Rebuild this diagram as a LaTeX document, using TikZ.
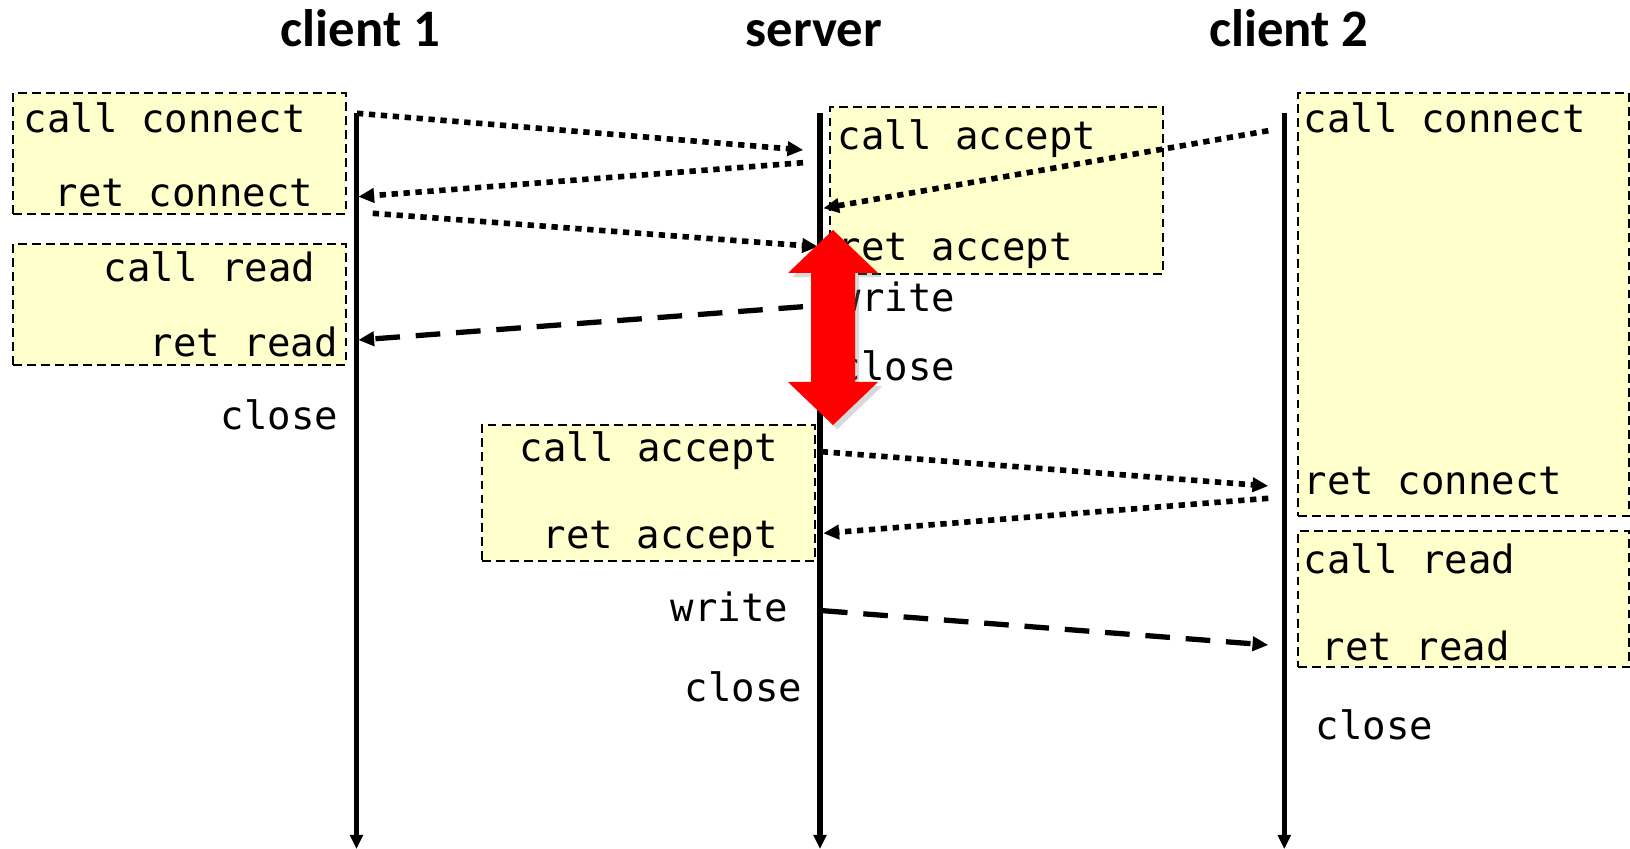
\documentclass[tikz,border=0pt]{standalone}
\usepackage{fontspec}
\usepackage{tikz}
\usetikzlibrary{arrows.meta,shadows}

\newfontfamily\codefont{DejaVu Sans Mono}
\newfontfamily\titlefont{Carlito}
\definecolor{notefill}{RGB}{255,255,204}

\begin{document}
\begin{tikzpicture}[x=1cm, y=-1cm,
    title/.style={font=\titlefont\bfseries\fontsize{15}{18}\selectfont, inner sep=0pt, anchor=base},
    code/.style={font=\codefont\fontsize{11.1}{13}\selectfont, inner sep=0pt, anchor=base west},
    notebox/.style={draw, fill=notefill, dash pattern=on 2.5pt off 1.5pt, line width=0.6pt, inner sep=0pt, anchor=north west},
    lifeline/.style={line width=1.5pt, -{Triangle[length=4pt,width=3.6pt]}},
    callmsg/.style={line width=1.6pt, dash pattern=on 1.8pt off 1.6pt, -{Triangle[length=4.5pt,width=4pt]}},
    datamsg/.style={line width=1.5pt, dash pattern=on 7pt off 4.5pt, -{Triangle[length=4.5pt,width=4pt]}}]

    \useasboundingbox (0,0) rectangle (16.30,8.49);

    % Process names
    \node[title] (client1) at (3.605,0.467) {client 1};
    \node[title] (server)  at (8.14,0.467)  {server};
    \node[title] (client2) at (12.89,0.467) {client 2};

    % Blocked intervals
    \node[notebox, minimum width=3.33cm, minimum height=1.21cm] (c1connect) at (0.117,0.917) {};
    \node[notebox, minimum width=3.33cm, minimum height=1.21cm] (c1read)    at (0.117,2.427) {};
    \node[notebox, minimum width=3.33cm, minimum height=1.67cm] (svaccept1) at (8.29,1.06)   {};
    \node[notebox, minimum width=3.33cm, minimum height=1.36cm] (svaccept2) at (4.807,4.24)  {};
    \node[notebox, minimum width=3.31cm, minimum height=4.23cm] (c2connect) at (12.973,0.917) {};
    \node[notebox, minimum width=3.31cm, minimum height=1.36cm] (c2read)    at (12.973,5.30) {};

    % Time lines
    \coordinate (c1top) at (3.565,1.133);
    \coordinate (c1end) at (3.565,8.49);
    \coordinate (svtop) at (8.20,1.127);
    \coordinate (svend) at (8.20,8.49);
    \coordinate (c2top) at (12.843,1.127);
    \coordinate (c2end) at (12.843,8.49);
    \draw[lifeline] (c1top) -- (c1end);
    \draw[lifeline] (svtop) -- (svend);
    \draw[lifeline] (c2top) -- (c2end);

    % Client 1 calls
    \node[code] (c1callconn) at (0.23,1.327) {call connect};
    \node[code] (c1retconn)  at (0.54,2.067) {ret connect};
    \node[code] (c1callread) at (1.03,2.817) {call read};
    \node[code] (c1retread)  at (1.49,3.56)  {ret read};
    \node[code] (c1close)    at (2.20,4.30)  {close};

    % Server calls
    \node[code] (svcallacc1) at (8.37,1.493) {call accept};
    \node[code] (svretacc1)  at (8.37,2.607) {ret accept};
    \node[code] (svwrite1)   at (8.37,3.117) {write};
    \node[code] (svclose1)   at (8.37,3.807) {close};
    \node[code] (svcallacc2) at (5.19,4.617) {call accept};
    \node[code] (svretacc2)  at (5.42,5.483) {ret accept};
    \node[code] (svwrite2)   at (6.70,6.217) {write};
    \node[code] (svclose2)   at (6.84,7.017) {close};

    % Client 2 calls
    \node[code] (c2callconn) at (13.03,1.327) {call connect};
    \node[code] (c2retconn)  at (13.03,4.943) {ret connect};
    \node[code] (c2callread) at (13.03,5.733) {call read};
    \node[code] (c2retread)  at (13.21,6.60)  {ret read};
    \node[code] (c2close)    at (13.15,7.40)  {close};

    % Message end points
    \coordinate (syn1)    at (3.57,1.133);
    \coordinate (syn1in)  at (8.033,1.50);
    \coordinate (ack1)    at (8.03,1.627);
    \coordinate (ack1in)  at (3.583,1.967);
    \coordinate (fin1)    at (3.727,2.133);
    \coordinate (fin1in)  at (8.18,2.467);
    \coordinate (syn2)    at (12.683,1.307);
    \coordinate (syn2in)  at (8.233,2.083);
    \coordinate (data1)   at (8.03,3.067);
    \coordinate (data1in) at (3.583,3.40);
    \coordinate (ack2)    at (8.217,4.517);
    \coordinate (ack2in)  at (12.683,4.86);
    \coordinate (fin2)    at (12.683,4.983);
    \coordinate (fin2in)  at (8.233,5.333);
    \coordinate (data2)   at (8.23,6.107);
    \coordinate (data2in) at (12.683,6.45);

    % Handshakes and data
    \draw[callmsg] (syn1) -- (syn1in);
    \draw[callmsg] (ack1) -- (ack1in);
    \draw[callmsg] (fin1) -- (fin1in);
    \draw[callmsg] (syn2) -- (syn2in);
    \draw[datamsg] (data1) -- (data1in);
    \draw[callmsg] (ack2) -- (ack2in);
    \draw[callmsg] (fin2) -- (fin2in);
    \draw[datamsg] (data2) -- (data2in);

    % Busy with client 1
    \fill[red, drop shadow={opacity=0.3, shadow xshift=1.2pt, shadow yshift=-1.2pt}]
      (8.33,2.30) -- ++(0.45,0.43) -- ++(-0.23,0) -- ++(0,1.09) -- ++(0.23,0)
      -- (8.33,4.25) -- ++(-0.45,-0.43) -- ++(0.23,0) -- ++(0,-1.09) -- ++(-0.23,0) -- cycle;
\end{tikzpicture}
\end{document}
